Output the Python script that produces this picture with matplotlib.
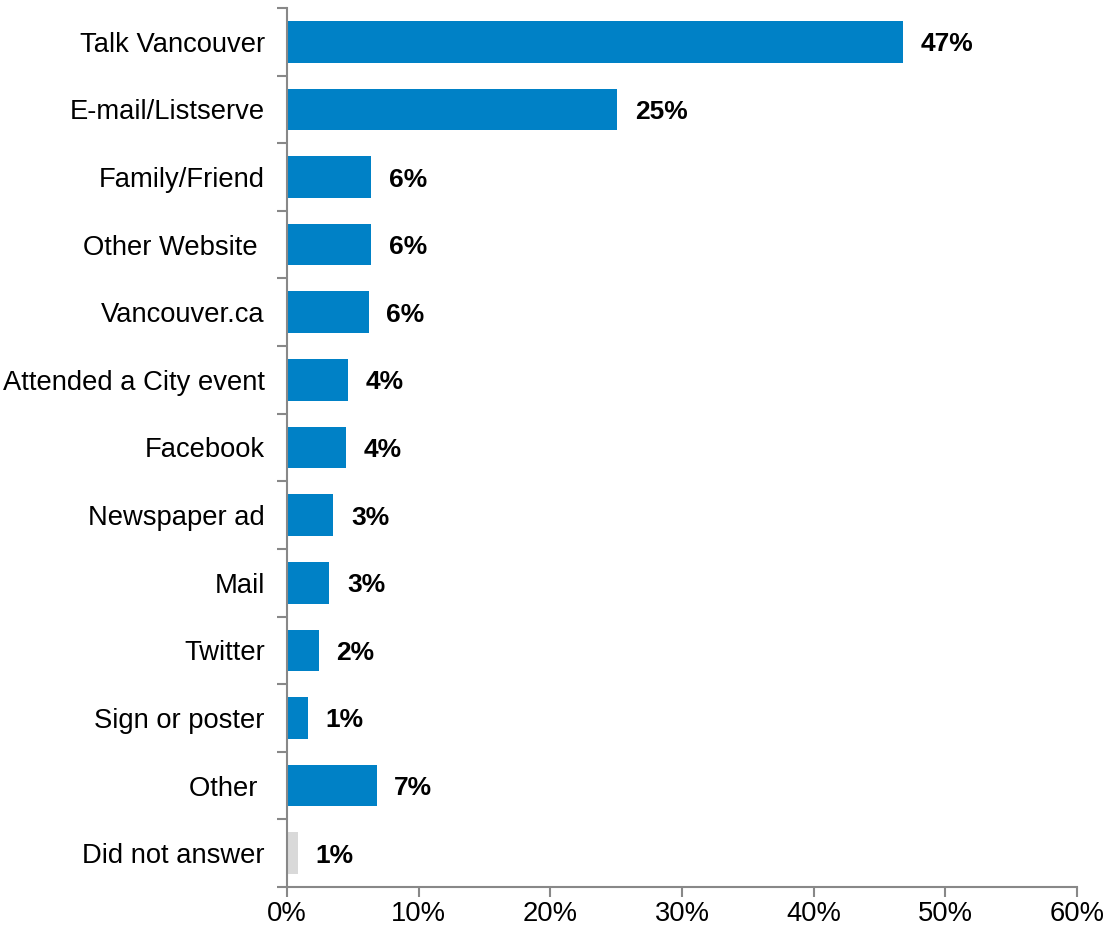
import matplotlib.pyplot as plt
from matplotlib.ticker import PercentFormatter

plt.rcParams['font.family'] = ['Liberation Sans', 'DejaVu Sans']

categories = ['Talk Vancouver', 'E-mail/Listserve', 'Family/Friend', 'Other Website ',
              'Vancouver.ca', 'Attended a City event', 'Facebook', 'Newspaper ad',
              'Mail', 'Twitter', 'Sign or poster', 'Other ', 'Did not answer']
values = [46.8, 25.1, 6.4, 6.4, 6.2, 4.6, 4.5, 3.5, 3.2, 2.4, 1.6, 6.8, 0.8]
labels = ['47%', '25%', '6%', '6%', '6%', '4%', '4%', '3%', '3%', '2%', '1%', '7%', '1%']
colors = ['#0081C6'] * 12 + ['#D9D9D9']

fig = plt.figure(figsize=(11.17, 9.33), dpi=100)
ax = fig.add_axes([287 / 1117, 46 / 933, 790 / 1117, 879 / 933])

y = list(range(len(categories)))
ax.barh(y, values, height=0.615, color=colors)
for yi, v, lab in zip(y, values, labels):
    ax.text(v + 1.35, yi, lab, va='center_baseline', ha='left', fontsize=19, fontweight='bold')

ax.set_ylim(len(categories) - 0.5, -0.5)
ax.set_xlim(0, 60)
ax.set_xticks(range(0, 61, 10))
ax.xaxis.set_major_formatter(PercentFormatter(decimals=0))

ax.set_yticks(y)
ax.set_yticklabels(categories)
ax.set_yticks([i - 0.5 for i in range(len(categories) + 1)], minor=True)
ax.tick_params(axis='y', which='major', length=0, pad=16, labelsize=19.7)
ax.tick_params(axis='y', which='minor', length=7, width=1.5, color='#888888')
ax.tick_params(axis='x', length=7, width=1.5, color='#888888', labelsize=19.7, pad=3)

for s in ['top', 'right']:
    ax.spines[s].set_visible(False)
for s in ['left', 'bottom']:
    ax.spines[s].set_color('#888888')
    ax.spines[s].set_linewidth(1.5)

fig.savefig('out.png', dpi=100)
